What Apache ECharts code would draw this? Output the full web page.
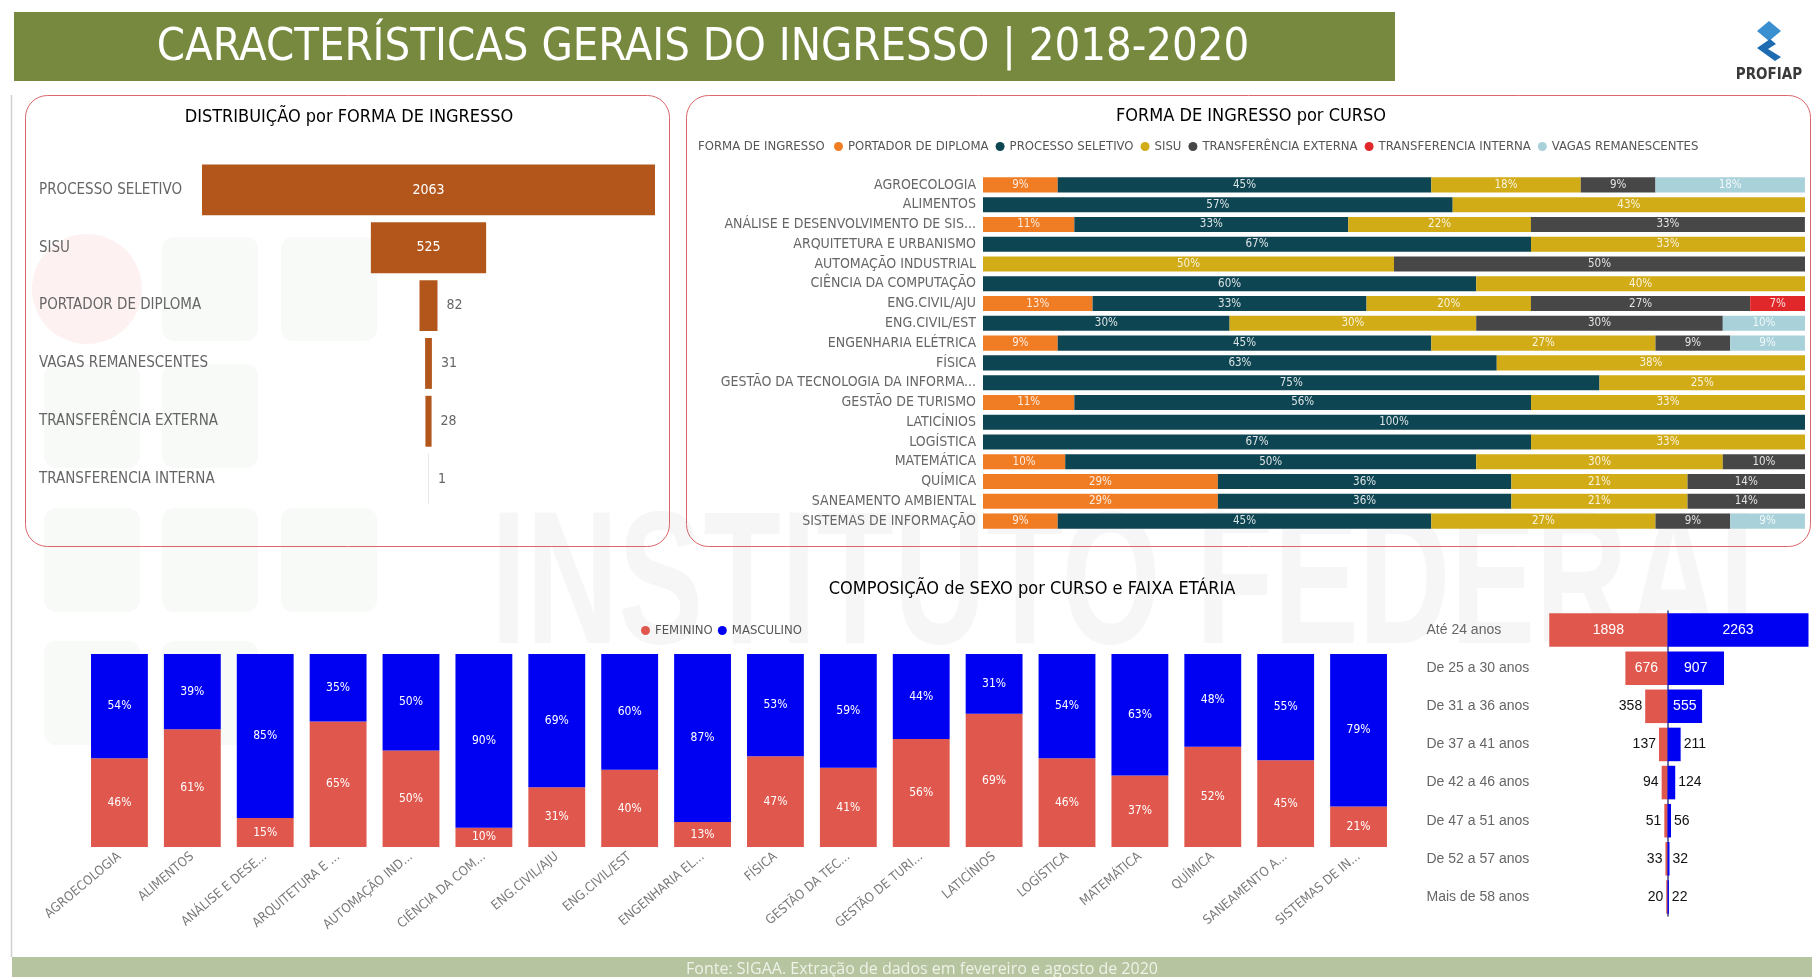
<!DOCTYPE html>
<html><head><meta charset="utf-8">
<script src="https://cdn.jsdelivr.net/npm/echarts@6/dist/echarts.min.js"></script>
<style>html,body{margin:0;padding:0;background:#fff;overflow:hidden}#c{width:1812px;height:977px}</style>
</head><body><div id="c"></div>
<script>
// ---------- DATA ----------
const formasIngresso = ['PROCESSO SELETIVO','SISU','PORTADOR DE DIPLOMA','VAGAS REMANESCENTES','TRANSFERÊNCIA EXTERNA','TRANSFERENCIA INTERNA'];
const ingressoTotais = [2063, 525, 82, 31, 28, 1];

const cursos = ['AGROECOLOGIA','ALIMENTOS','ANÁLISE E DESENVOLVIMENTO DE SIS...','ARQUITETURA E URBANISMO','AUTOMAÇÃO INDUSTRIAL','CIÊNCIA DA COMPUTAÇÃO','ENG.CIVIL/AJU','ENG.CIVIL/EST','ENGENHARIA ELÉTRICA','FÍSICA','GESTÃO DA TECNOLOGIA DA INFORMA...','GESTÃO DE TURISMO','LATICÍNIOS','LOGÍSTICA','MATEMÁTICA','QUÍMICA','SANEAMENTO AMBIENTAL','SISTEMAS DE INFORMAÇÃO'];
const seriesForma = ['PORTADOR DE DIPLOMA','PROCESSO SELETIVO','SISU','TRANSFERÊNCIA EXTERNA','TRANSFERENCIA INTERNA','VAGAS REMANESCENTES'];
const pctPortador = [9.09, 0, 11.11, 0, 0, 0, 13.33, 0, 9.09, 0, 0, 11.11, 0, 0, 10, 28.57, 28.57, 9.09];
const pctProcesso = [45.45, 57.14, 33.33, 66.67, 0, 60, 33.33, 30, 45.45, 62.5, 75, 55.56, 100, 66.67, 50, 35.71, 35.71, 45.45];
const pctSisu = [18.18, 42.86, 22.22, 33.33, 50, 40, 20, 30, 27.27, 37.5, 25, 33.33, 0, 33.33, 30, 21.43, 21.43, 27.27];
const pctTransfExt = [9.09, 0, 33.33, 0, 50, 0, 26.67, 30, 9.09, 0, 0, 0, 0, 0, 10, 14.29, 14.29, 9.09];
const pctTransfInt = [0, 0, 0, 0, 0, 0, 6.67, 0, 0, 0, 0, 0, 0, 0, 0, 0, 0, 0];
const pctVagas = [18.18, 0, 0, 0, 0, 0, 0, 10, 9.09, 0, 0, 0, 0, 0, 0, 0, 0, 9.09];

const cursosCurtos = ['AGROECOLOGIA','ALIMENTOS','ANÁLISE E DESE...','ARQUITETURA E ...','AUTOMAÇÃO IND...','CIÊNCIA DA COM...','ENG.CIVIL/AJU','ENG.CIVIL/EST','ENGENHARIA EL...','FÍSICA','GESTÃO DA TEC...','GESTÃO DE TURI...','LATICÍNIOS','LOGÍSTICA','MATEMÁTICA','QUÍMICA','SANEAMENTO A...','SISTEMAS DE IN...'];
const pctFeminino = [46, 61, 15, 65, 50, 10, 31, 40, 13, 47, 41, 56, 69, 46, 37, 52, 45, 21];
const pctMasculino = [54, 39, 85, 35, 50, 90, 69, 60, 87, 53, 59, 44, 31, 54, 63, 48, 55, 79];

const faixasEtarias = ['Até 24 anos','De 25 a 30 anos','De 31 a 36 anos','De 37 a 41 anos','De 42 a 46 anos','De 47 a 51 anos','De 52 a 57 anos','Mais de 58 anos'];
const idadeFeminino = [1898, 676, 358, 137, 94, 51, 33, 20];
const idadeMasculino = [2263, 907, 555, 211, 124, 56, 32, 22];

// ---------- STYLE ----------
const NARROW = '"Liberation Sans Narrow","DejaVu Sans Condensed",sans-serif';
const ARIAL = '"Liberation Sans",Arial,sans-serif';
const coresForma = ['#f07d24','#0e4552','#d2ac16','#474747','#e0282b','#a8d1d9'];
const corFem = '#e0584d', corMasc = '#0000f2';

const maxTotal = Math.max(...ingressoTotais);
const maxIdade = Math.max(...idadeFeminino, ...idadeMasculino);
const pctSeries = [pctPortador, pctProcesso, pctSisu, pctTransfExt, pctTransfInt, pctVagas];

const chart = echarts.init(document.getElementById('c'), null, {renderer:'canvas'});

const hidden = {show:false};
function valAxis(grid, extra){ return Object.assign({type:'value', gridIndex:grid, show:false, splitLine:hidden}, extra); }

const graphics = [
  // watermark IF logo squares
  {type:'circle', shape:{cx:87, cy:289, r:55}, style:{fill:'rgba(225,60,60,0.07)'}, z:-10},
  ...[[162,237],[281,237],[44,364],[162,364],[44,508],[162,508],[281,508],[44,641],[162,641]].map(p=>({
    type:'rect', shape:{x:p[0], y:p[1], width:96, height:104, r:12}, style:{fill:'rgba(60,150,60,0.045)'}, z:-10})),
  {type:'text', x:491, y:496, scaleX:0.67, style:{text:'INSTITUTO FEDERAL', x:0, y:0, font:'bold 190px '+ARIAL, fill:'rgba(0,0,0,0.035)', textAlign:'left', verticalAlign:'top'}, z:-10},
  // header
  {type:'rect', shape:{x:14, y:12, width:1381, height:69}, style:{fill:'#76893f'}},
  {type:'text', style:{text:'CARACTERÍSTICAS GERAIS DO INGRESSO | 2018-2020', x:703, y:48, font:'45px '+NARROW, fill:'#ffffff', textAlign:'center', verticalAlign:'middle'}},
  // logo
  {type:'polygon', shape:{points:[[1769,21],[1781,31],[1769,41],[1757,31]]}, style:{fill:'#3a8fd0'}},
  {type:'polygon', shape:{points:[[1757,48],[1770,39],[1776,44],[1768,49],[1781,57],[1775,61]]}, style:{fill:'#1d6bb0'}},
  {type:'text', style:{text:'PROFIAP', x:1769, y:75, font:'bold 15px '+NARROW, fill:'#3a3a3a', textAlign:'center', verticalAlign:'middle'}},
  // left page border
  {type:'line', shape:{x1:11.5, y1:95, x2:11.5, y2:957}, style:{stroke:'#cfcfcf', lineWidth:1.5}},
  // panels
  {type:'rect', shape:{x:25.5, y:95.5, width:644, height:451, r:22}, style:{fill:'none', stroke:'#d9676b', lineWidth:1}},
  {type:'rect', shape:{x:686.5, y:95.5, width:1124, height:451, r:22}, style:{fill:'none', stroke:'#d9676b', lineWidth:1}},
  {type:'text', style:{text:'DISTRIBUIÇÃO por FORMA DE INGRESSO', x:349, y:117, font:'18px '+NARROW, fill:'#000', textAlign:'center', verticalAlign:'middle'}},
  {type:'text', style:{text:'FORMA DE INGRESSO por CURSO', x:1251, y:116, font:'18px '+NARROW, fill:'#000', textAlign:'center', verticalAlign:'middle'}},
  {type:'text', style:{text:'FORMA DE INGRESSO', x:698, y:147, font:'13px '+NARROW, fill:'#555', textAlign:'left', verticalAlign:'middle'}},
  {type:'text', style:{text:'COMPOSIÇÃO de SEXO por CURSO e FAIXA ETÁRIA', x:1032, y:589, font:'18px '+NARROW, fill:'#000', textAlign:'center', verticalAlign:'middle'}},
  // footer
  {type:'rect', shape:{x:12, y:957, width:1800, height:20}, style:{fill:'#b7c4a0'}},
  {type:'text', style:{text:'Fonte: SIGAA. Extração de dados em fevereiro e agosto de 2020', x:922, y:969, font:'16px "Open Sans",sans-serif', fill:'#eef2e7', textAlign:'center', verticalAlign:'middle'}}
];

const option = {
  animation:false,
  backgroundColor:'#ffffff',
  textStyle:{fontFamily:NARROW},
  graphic:graphics,
  legend:[
    {data:seriesForma, left:834, top:140, icon:'circle', itemWidth:9, itemHeight:9, itemGap:7, padding:0,
     textStyle:{color:'#555', fontSize:13, fontFamily:NARROW}},
    {data:['FEMININO','MASCULINO'], left:641, top:624, icon:'circle', itemWidth:9, itemHeight:9, itemGap:5, padding:0,
     textStyle:{color:'#555', fontSize:13, fontFamily:NARROW}}
  ],
  grid:[
    {left:202, width:453, top:161, height:347},
    {left:983, width:822, top:175, height:356},
    {left:83, width:1312, top:654, height:193},
    {left:1526.5, width:141, top:611, height:305},
    {left:1667.5, width:141, top:611, height:305}
  ],
  xAxis:[
    valAxis(0, {min:-maxTotal/2, max:maxTotal/2}),
    valAxis(1, {min:0, max:100}),
    {type:'category', gridIndex:2, data:cursosCurtos, axisLine:hidden, axisTick:hidden,
     axisLabel:{interval:0, rotate:40, color:'#7a7a7a', fontSize:13, fontFamily:NARROW, margin:8}},
    valAxis(3, {min:0, max:maxIdade, inverse:true}),
    valAxis(4, {min:0, max:maxIdade})
  ],
  yAxis:[
    {type:'category', gridIndex:0, data:formasIngresso, inverse:true, axisLine:{show:false, onZero:false}, axisTick:hidden,
     axisLabel:{align:'left', margin:163, color:'#666', fontSize:15, fontFamily:NARROW}},
    {type:'category', gridIndex:1, data:cursos, inverse:true, axisLine:{show:false, onZero:false}, axisTick:hidden,
     axisLabel:{margin:7, color:'#666', fontSize:14, fontFamily:NARROW}},
    valAxis(2, {min:0, max:100}),
    {type:'category', gridIndex:3, data:faixasEtarias, inverse:true, axisLine:{show:false, onZero:false}, axisTick:hidden,
     axisLabel:{align:'left', margin:100, color:'#666', fontSize:14, fontFamily:ARIAL}},
    {type:'category', gridIndex:4, data:faixasEtarias, inverse:true, axisLine:{show:true, onZero:false, lineStyle:{color:'#3c3c7a', width:1.5}}, axisTick:hidden,
     axisLabel:{show:false}}
  ],
  series:[
    {
      type:'custom', name:'Forma de ingresso', xAxisIndex:0, yAxisIndex:0,
      data:ingressoTotais.map((v,i)=>[v,i]),
      encode:{x:0, y:1},
      renderItem:function(params, api){
        const v = api.value(0), i = api.value(1);
        const a = api.coord([-v/2, i]);
        const b = api.coord([v/2, i]);
        const h = api.size([0,1])[1]*0.88;
        const inside = v >= 500;
        return {
          type:'rect',
          shape:{x:a[0], y:a[1]-h/2, width:Math.max(b[0]-a[0], 0.6), height:h},
          style:{fill: v >= 10 ? '#b3561c' : '#d9d9d9'},
          textContent:{style:{text:String(v), fill: inside ? '#ffffff' : '#666', font:'14px '+NARROW}},
          textConfig:{position: inside ? 'inside' : 'right', distance:9}
        };
      }
    },
    ...seriesForma.map((nm, k)=>({
      type:'bar', name:nm, stack:'forma', xAxisIndex:1, yAxisIndex:1, data:pctSeries[k],
      barWidth:'76%', itemStyle:{color:coresForma[k]},
      label:{show:true, position:'inside', color:'rgba(255,255,255,0.85)', fontSize:11.5, fontFamily:NARROW,
             formatter:p => p.value > 0 ? Math.round(p.value)+'%' : ''}
    })),
    {type:'bar', name:'FEMININO', stack:'sexo', xAxisIndex:2, yAxisIndex:2, data:pctFeminino, barCategoryGap:'22%',
     itemStyle:{color:corFem}, label:{show:true, position:'inside', color:'#ffffff', fontSize:12, fontFamily:NARROW, formatter:'{c}%'}},
    {type:'bar', name:'MASCULINO', stack:'sexo', xAxisIndex:2, yAxisIndex:2, data:pctMasculino, barCategoryGap:'22%',
     itemStyle:{color:corMasc}, label:{show:true, position:'inside', color:'#ffffff', fontSize:12, fontFamily:NARROW, formatter:'{c}%'}},
    {type:'bar', name:'FEMININO', xAxisIndex:3, yAxisIndex:3, barCategoryGap:'12%', itemStyle:{color:corFem},
     data:idadeFeminino.map(v=>({value:v, label:{show:true, position: v>=500 ? 'inside' : 'left', distance:3,
       color: v>=500 ? '#ffffff' : '#111', fontSize:14, fontFamily:ARIAL}}))},
    {type:'bar', name:'MASCULINO', xAxisIndex:4, yAxisIndex:4, barCategoryGap:'12%', itemStyle:{color:corMasc},
     data:idadeMasculino.map(v=>({value:v, label:{show:true, position: v>=500 ? 'inside' : 'right', distance:3,
       color: v>=500 ? '#ffffff' : '#111', fontSize:14, fontFamily:ARIAL}}))}
  ]
};
chart.setOption(option);
</script>
</body></html>
